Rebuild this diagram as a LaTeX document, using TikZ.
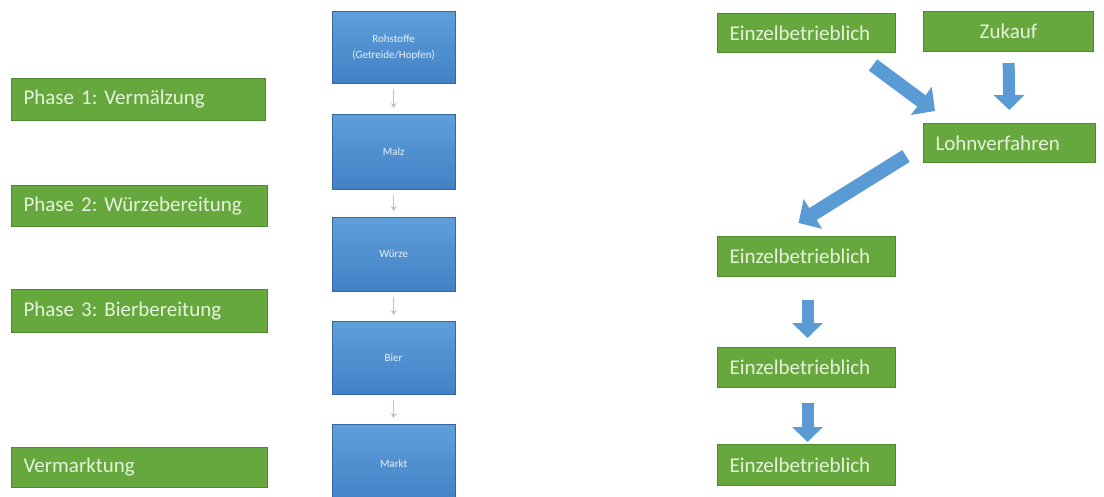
\documentclass[tikz,border=0pt]{standalone}
\usepackage{fontspec}
\setmainfont{Carlito}
\usetikzlibrary{arrows.meta}
\definecolor{gfill}{HTML}{66A83E}
\definecolor{gline}{HTML}{4F8A2E}
\definecolor{gtext}{HTML}{E6F3DA}
\definecolor{btop}{HTML}{5F9FDA}
\definecolor{bbot}{HTML}{4381C6}
\definecolor{ablue}{HTML}{5B9BD5}
\definecolor{thinc}{HTML}{AFC6DE}
\begin{document}
\frenchspacing
\begin{tikzpicture}[x=1pt,y=-1pt,
  gbox/.style={draw=gline, line width=1pt, fill=gfill, text=gtext,
    font=\fontsize{21}{24}\selectfont, inner xsep=12pt, inner ysep=0pt,
    anchor=north west, align=left},
  bbox/.style={draw=bbot!80!black, line width=0.3pt, top color=btop, bottom color=bbot,
    text=white!85!btop, font=\fontsize{11}{16}\selectfont, align=center,
    minimum width=123pt, anchor=north west, inner sep=0pt},
  thinarrow/.style={draw=thinc, line width=0.9pt, -{Stealth[length=5pt,width=6pt]},
    shorten <=6pt, shorten >=6pt},
  barrow/.style={draw=ablue, line width=14pt, -{Triangle[width=34pt,length=17pt]}},
  varrow/.style={draw=ablue, line width=12pt, -{Triangle[width=30pt,length=15pt]}},
]
\useasboundingbox (0,0) rectangle (1104,496);
\clip (0,0) rectangle (1104,496);
\fill[white] (0,0) rectangle (1104,496);

% left phase boxes
\node[gbox, text width=230pt, minimum height=42pt] (p1) at (11,78) {Phase 1: Vermälzung};
\node[gbox, text width=232pt, minimum height=41pt] (p2) at (11,185) {Phase 2: Würzebereitung};
\node[gbox, text width=232pt, minimum height=43pt] (p3) at (11,289) {Phase 3: Bierbereitung};
\node[gbox, text width=232pt, minimum height=40pt] (p4) at (11,447) {Vermarktung};

% middle blue chain
\node[bbox, minimum height=72pt] (roh) at (332,11) {Rohstoffe\\(Getreide/Hopfen)};
\node[bbox, minimum height=75pt] (malz) at (332,114) {Malz};
\node[bbox, minimum height=74pt] (wuerze) at (332,217) {Würze};
\node[bbox, minimum height=73pt] (bier) at (332,321) {Bier};
\node[bbox, minimum height=80pt] (markt) at (332,424) {Markt};
\draw[thinarrow] (roh.south) -- (malz.north);
\draw[thinarrow] (malz.south) -- (wuerze.north);
\draw[thinarrow] (wuerze.south) -- (bier.north);
\draw[thinarrow] (bier.south) -- (markt.north);

% right side
\node[gbox, text width=154pt, minimum height=39pt] (e1) at (717,13) {Einzelbetrieblich};
\node[gbox, text width=146pt, minimum height=40pt, align=center] (zu) at (923,11) {Zukauf};
\node[gbox, text width=148pt, minimum height=39pt] (lohn) at (923,123) {Lohnverfahren};
\node[gbox, text width=154pt, minimum height=40pt] (e2) at (717,236) {Einzelbetrieblich};
\node[gbox, text width=154pt, minimum height=40pt] (e3) at (717,347) {Einzelbetrieblich};
\node[gbox, text width=154pt, minimum height=41pt] (e4) at (717,444) {Einzelbetrieblich};

\draw[barrow] ([shift={(-23,12)}]e1.south east) -- ([shift={(12,-12)}]lohn.north west);
\draw[varrow, shorten <=11pt, shorten >=13pt] (zu.south) -- (lohn.north);
\draw[barrow] ([shift={(-17,-7)}]lohn.south west) -- ([shift={(-8,-13)}]e2.north);
\draw[varrow, shorten <=23pt, shorten >=9pt] ([xshift=1pt]e2.south) -- ([xshift=1pt]e3.north);
\draw[varrow, shorten <=15pt, shorten >=2pt] ([xshift=1pt]e3.south) -- ([xshift=1pt]e4.north);
\end{tikzpicture}
\end{document}
